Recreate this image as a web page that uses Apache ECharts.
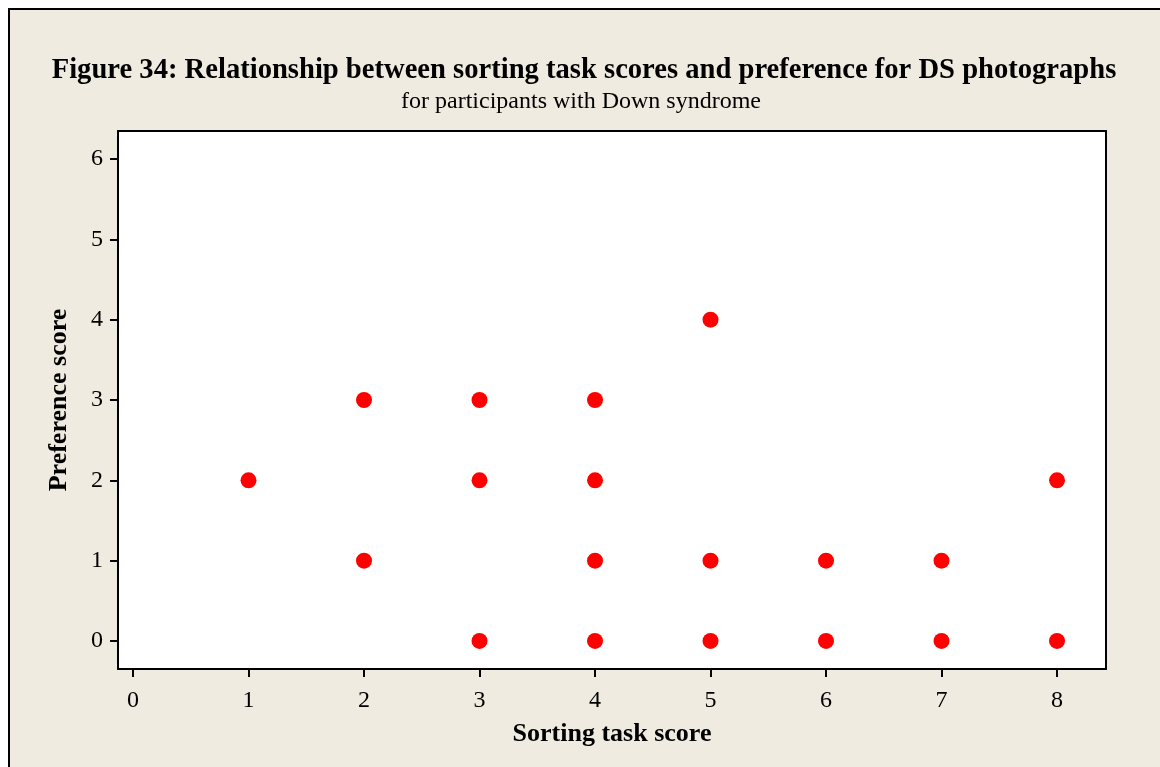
<!DOCTYPE html>
<html><head><meta charset="utf-8">
<script src="https://cdn.jsdelivr.net/npm/echarts@6/dist/echarts.min.js"></script>
<style>html,body{margin:0;padding:0;background:#fff}#c{width:1160px;height:767px}</style>
</head><body><div id="c"></div>
<script>
const sortingScore = [1, 2, 2, 3, 3, 3, 4, 4, 4, 4, 5, 5, 5, 6, 6, 7, 7, 8, 8];
const preferenceScore = [2, 3, 1, 3, 2, 0, 3, 2, 1, 0, 4, 1, 0, 1, 0, 1, 0, 2, 0];
const xTicks = [0, 1, 2, 3, 4, 5, 6, 7, 8];
const yTicks = [0, 1, 2, 3, 4, 5, 6];
const titleText = 'Figure 34: Relationship between sorting task scores and preference for DS photographs';
const subtitleText = 'for participants with Down syndrome';
const xName = 'Sorting task score';
const yName = 'Preference score';

const points = sortingScore.map((x, i) => [x, preferenceScore[i]]);
const serif = '"Liberation Serif", "Times New Roman", serif';
const chart = echarts.init(document.getElementById('c'), null, {renderer: 'canvas'});
chart.setOption({
  backgroundColor: '#ffffff',
  animation: false,
  graphic: [{
    type: 'rect', z: -10, silent: true,
    shape: {x: 9, y: 9, width: 1170, height: 780},
    style: {fill: '#EFEBE0', stroke: '#000', lineWidth: 2}
  }],
  title: [{
    text: titleText, left: 579, top: 51, textAlign: 'center',
    textStyle: {fontFamily: serif, fontWeight: 'bold', fontSize: 28.6, color: '#000'}
  }, {
    text: subtitleText, left: 576, top: 85, textAlign: 'center',
    textStyle: {fontFamily: serif, fontWeight: 'normal', fontSize: 24, color: '#000'}
  }],
  grid: {left: 118, top: 131, width: 988, height: 538, show: true, backgroundColor: '#fff', borderColor: '#000', borderWidth: 2},
  xAxis: {
    type: 'value', min: -0.13, max: 8.424,
    name: xName, nameLocation: 'middle', nameGap: 52,
    nameTextStyle: {fontFamily: serif, fontWeight: 'bold', fontSize: 26, color: '#000'},
    axisLine: {show: false, onZero: false},
    splitLine: {show: false},
    axisTick: {show: true, length: 8, lineStyle: {color: '#000', width: 2}, customValues: xTicks},
    axisLabel: {fontFamily: serif, fontSize: 24, color: '#000', margin: 20, customValues: xTicks, formatter: v => String(v)}
  },
  yAxis: {
    type: 'value', min: -0.349, max: 6.349,
    name: yName, nameLocation: 'middle', nameGap: 46,
    nameTextStyle: {fontFamily: serif, fontWeight: 'bold', fontSize: 26, color: '#000'},
    axisLine: {show: false, onZero: false},
    splitLine: {show: false},
    axisTick: {show: true, length: 8, lineStyle: {color: '#000', width: 2}, customValues: yTicks},
    axisLabel: {fontFamily: serif, fontSize: 24, color: '#000', margin: 15, customValues: yTicks, formatter: v => String(v)}
  },
  series: [{
    type: 'scatter', data: points, symbol: 'circle', symbolSize: 16,
    itemStyle: {color: '#FF0000', opacity: 1}
  }]
});
</script></body></html>
